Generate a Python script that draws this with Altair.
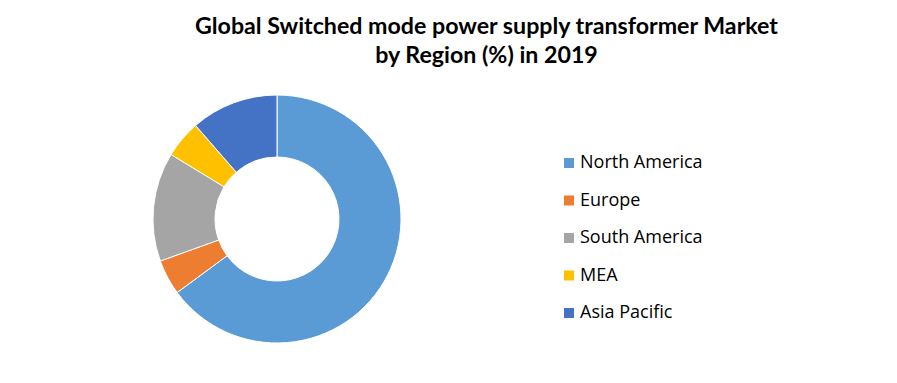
import altair as alt
import pandas as pd

regions = ["North America", "Europe", "South America", "MEA", "Asia Pacific"]
shares = [64.9, 4.6, 14.2, 4.9, 11.4]
colors = ["#5B9BD5", "#ED7D31", "#A5A5A5", "#FFC000", "#4472C4"]
title_lines = ["Global Switched mode power supply transformer Market", "by Region (%) in 2019"]

df = pd.DataFrame({"region": regions, "share": shares, "order": list(range(len(regions)))})

TOP = 80

chart = alt.Chart(df).mark_arc(
    outerRadius=124, innerRadius=62, stroke="white", strokeWidth=1
).encode(
    theta=alt.Theta("share:Q", stack=True),
    order=alt.Order("order:Q"),
    color=alt.Color(
        "region:N",
        scale=alt.Scale(domain=regions, range=colors),
        legend=alt.Legend(
            title=None, orient="none", legendX=560, legendY=154 - TOP,
            symbolType="square", symbolSize=100, symbolStrokeWidth=0,
            labelFont="Open Sans", labelFontSize=18, labelColor="#000000",
            labelOffset=2, rowPadding=19.5, padding=0, labelLimit=300,
        ),
    ),
    x=alt.value(277),
    y=alt.value(219 - TOP),
).properties(
    width=897, height=383 - TOP,
    title=alt.TitleParams(
        text=title_lines, font="Lato", fontSize=23.2, fontWeight="bold",
        color="#000000", anchor="middle", dx=38, dy=-2, lineHeight=29, offset=10,
    ),
    autosize=alt.AutoSizeParams(type="none"),
    padding={"left": 0, "top": TOP, "right": 0, "bottom": 0},
).configure_view(stroke=None)

chart.save("out.html", embed_options={"renderer": "svg", "actions": False})
